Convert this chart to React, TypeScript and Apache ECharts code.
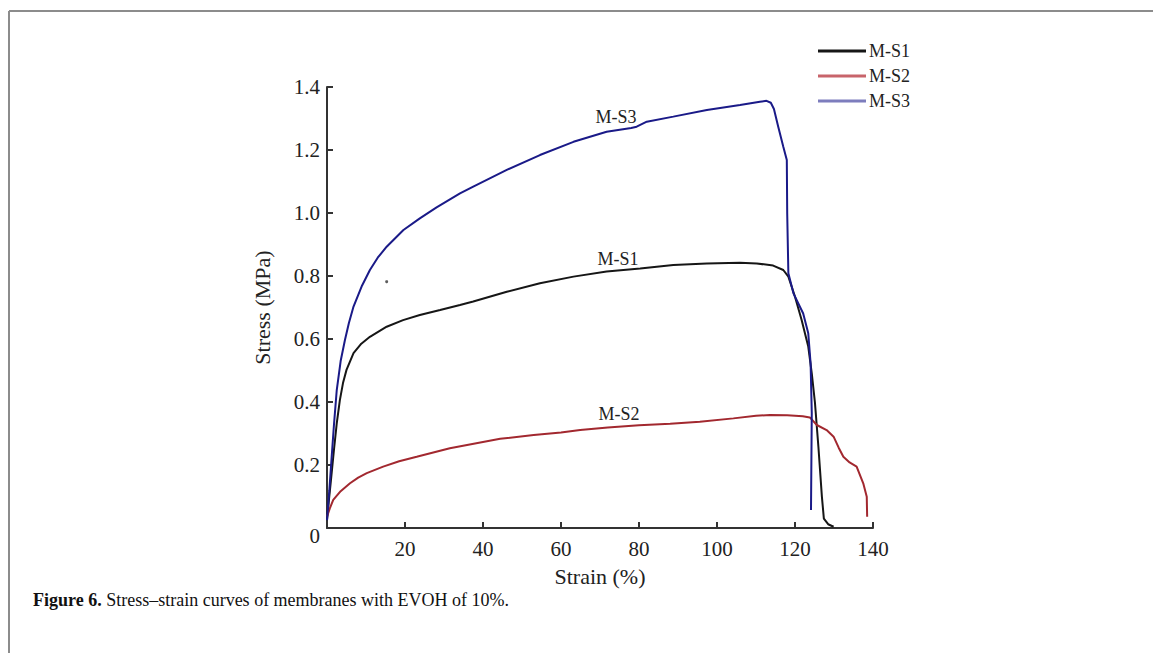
import React, { useEffect, useRef } from "react";
import * as echarts from "echarts";

const seriesNames = ["M-S1", "M-S2", "M-S3"];

// [strain %, stress MPa]
const msS1: number[][] = [
  [0, 0.025], [0.5, 0.09], [1, 0.15], [1.8, 0.25], [2.5, 0.332], [3.3, 0.406], [4.1, 0.46], [5, 0.502],
  [6.8, 0.555], [8.8, 0.585], [11, 0.607], [15.3, 0.639], [19.5, 0.66], [23.8, 0.676], [29, 0.692],
  [34.1, 0.708], [37.5, 0.719], [46.1, 0.75], [54.6, 0.777], [63.2, 0.798], [71.7, 0.814], [80.3, 0.824],
  [88.8, 0.835], [97.4, 0.84], [105.9, 0.842], [110.2, 0.84], [114.4, 0.833], [117, 0.819], [118.3, 0.798],
  [120, 0.734], [121.7, 0.66], [123.4, 0.576], [124.3, 0.491], [125.1, 0.4], [126, 0.258], [126.9, 0.099],
  [127.4, 0.03], [128.5, 0.012], [129.9, 0.004],
];

const msS2: number[][] = [
  [0, 0.036], [0.8, 0.065], [1.6, 0.089], [3.5, 0.117], [5.9, 0.142], [8, 0.16], [10.2, 0.174], [14.4, 0.195],
  [18.5, 0.212], [23, 0.226], [31.5, 0.253], [44.4, 0.283], [53, 0.295], [60, 0.303], [64.9, 0.311],
  [72, 0.319], [80, 0.326], [88, 0.331], [95.6, 0.337], [104.2, 0.348], [110, 0.356], [113.6, 0.359],
  [118, 0.358], [122, 0.355], [123.8, 0.351], [125.6, 0.327], [128.1, 0.311], [129.9, 0.29], [131.2, 0.255],
  [132.4, 0.226], [134, 0.208], [135.8, 0.195], [137.5, 0.142], [138.4, 0.099], [138.5, 0.036],
];

const msS3: number[][] = [
  [0, 0.025], [0.6, 0.12], [1.2, 0.226], [1.8, 0.33], [2.5, 0.438], [3.5, 0.53], [4.6, 0.597], [5.6, 0.65],
  [6.8, 0.703], [9, 0.77], [11, 0.819], [13, 0.858], [15.3, 0.893], [19.6, 0.946], [23.8, 0.983],
  [28.1, 1.018], [34.1, 1.062], [37.5, 1.084], [46.1, 1.137], [54.6, 1.184], [63.2, 1.226], [71.7, 1.258],
  [78, 1.27], [79.4, 1.274], [82, 1.29], [88.8, 1.306], [97.4, 1.327], [105.9, 1.343], [111, 1.353],
  [112.7, 1.356], [113.8, 1.35], [114.6, 1.33], [115.7, 1.274], [117, 1.21], [117.9, 1.168], [118, 1.0],
  [118.3, 0.809], [119.6, 0.745], [122.1, 0.681], [123.4, 0.618], [124, 0.523], [124.3, 0.364], [124.1, 0.057],
];

// curve annotation positions [strain, stress]
const labelS1 = [74.6, 0.854];
const labelS2 = [74.9, 0.362];
const labelS3 = [74.1, 1.305];

const strayDot: number[][] = [[15.3, 0.782]];

const xTicks = { min: 0, max: 140, interval: 20 };
const yTicks = { min: 0, max: 1.4, interval: 0.2 };

const lineColors = ["#161616", "#a2282f", "#1a1a88"];
const legendColors = ["#161616", "#c8646b", "#7d7dbd"];

const xName = "Strain (%)";
const yName = "Stress (MPa)";
const captionBold = "Figure 6.";
const captionText = " Stress–strain curves of membranes with EVOH of 10%.";

const FONT = "'Liberation Serif', 'Times New Roman', serif";

export default function App() {
  const ref = useRef<HTMLDivElement>(null);
  useEffect(() => {
    if (!ref.current) return;
    const chart = echarts.init(ref.current, undefined, { renderer: "svg" });
    const datasets = [msS1, msS2, msS3];
    const labels = [labelS1, labelS2, labelS3];
    const option: any = {
      animation: false,
      backgroundColor: "#ffffff",
      grid: { left: 327, right: 280, top: 87, bottom: 125, containLabel: false },
      legend: {
        orient: "vertical",
        left: 813,
        top: 36,
        icon: "rect",
        itemWidth: 48,
        itemHeight: 3,
        itemGap: 5,
        textStyle: { fontFamily: FONT, fontSize: 18, color: "#222", lineHeight: 20, padding: [0, 0, 0, -2] },
        data: seriesNames.map((n, i) => ({ name: n, itemStyle: { color: legendColors[i] } })),
      },
      xAxis: {
        type: "value",
        min: xTicks.min,
        max: xTicks.max,
        interval: xTicks.interval,
        name: xName,
        nameLocation: "middle",
        nameGap: 37,
        nameTextStyle: { fontFamily: FONT, fontSize: 22, color: "#222" },
        axisLine: { lineStyle: { color: "#333", width: 2 } },
        axisTick: { inside: true, length: 6, lineStyle: { color: "#333", width: 2 } },
        axisLabel: {
          fontFamily: FONT,
          fontSize: 21,
          color: "#222",
          margin: 10,
          formatter: (v: number) => (v === 0 ? "" : String(v)),
        },
        splitLine: { show: false },
      },
      yAxis: {
        type: "value",
        min: yTicks.min,
        max: yTicks.max,
        interval: yTicks.interval,
        name: yName,
        nameLocation: "middle",
        nameGap: 54,
        nameTextStyle: { fontFamily: FONT, fontSize: 22, color: "#222" },
        axisLine: { show: true, lineStyle: { color: "#333", width: 2 } },
        axisTick: { show: true, inside: true, length: 6, lineStyle: { color: "#333", width: 2 } },
        axisLabel: {
          fontFamily: FONT,
          fontSize: 21,
          color: "#222",
          margin: 7,
          formatter: (v: number) => (v === 0 ? "{z|0}" : v.toFixed(1)),
          rich: { z: { fontFamily: FONT, fontSize: 21, color: "#222", padding: [16, 0, 0, 0] } },
        },
        splitLine: { show: false },
      },
      series: [
        ...datasets.map((d, i) => ({
          name: seriesNames[i],
          type: "line",
          data: d,
          symbol: "none",
          smooth: false,
          lineStyle: { color: lineColors[i], width: 2 },
          itemStyle: { color: lineColors[i] },
          z: i === 2 ? 3 : 2,
          markPoint: {
            symbol: "circle",
            symbolSize: 0,
            silent: true,
            data: [{ coord: labels[i], value: seriesNames[i] }],
            label: {
              show: true,
              position: "inside",
              formatter: seriesNames[i],
              fontFamily: FONT,
              fontSize: 18,
              color: "#222",
            },
          },
        })),
        {
          name: "dot",
          type: "scatter",
          data: strayDot,
          symbolSize: 3,
          itemStyle: { color: "#333" },
          silent: true,
        },
      ],
      graphic: [
        { type: "line", shape: { x1: 9, y1: 11, x2: 1153, y2: 11 }, style: { stroke: "#8c8c8c", lineWidth: 2 } },
        { type: "line", shape: { x1: 9, y1: 11, x2: 9, y2: 653 }, style: { stroke: "#8c8c8c", lineWidth: 2 } },
        {
          type: "text",
          left: 33,
          top: 591,
          style: {
            text: "{b|" + captionBold + "}{n|" + captionText + "}",
            rich: {
              b: { fontFamily: FONT, fontSize: 18, fontWeight: "bold", fill: "#111" },
              n: { fontFamily: FONT, fontSize: 18, fill: "#111" },
            },
          },
        },
      ],
    };
    chart.setOption(option);
    return () => chart.dispose();
  }, []);
  return (
    <div
      ref={ref}
      style={{ position: "fixed", left: 0, top: 0, width: "1153px", height: "653px" }}
    />
  );
}
